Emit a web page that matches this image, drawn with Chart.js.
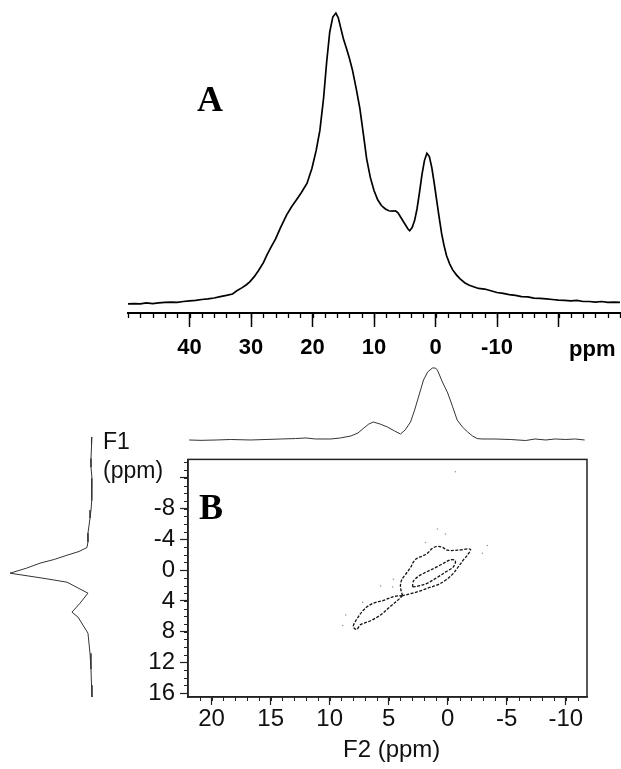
<!DOCTYPE html>
<html>
<head>
<meta charset="utf-8">
<script src="https://cdn.jsdelivr.net/npm/chart.js@4.4.1/dist/chart.umd.min.js"></script>
<style>
  html, body { margin: 0; padding: 0; background: #fff; }
  #fig { position: relative; width: 621px; height: 769px; background: #fff; overflow: hidden; }
  .box { position: absolute; }
  .lbl { position: absolute; font-family: "Liberation Sans", Arial, sans-serif; color: #111; white-space: nowrap; line-height: 1; }
  .panel { position: absolute; font-family: "Liberation Serif", "Times New Roman", serif; font-weight: bold; color: #000; line-height: 1; }
</style>
</head>
<body>
<div id="fig">
  <div class="box" style="left:0;top:0;width:621px;height:370px"><canvas id="specA" width="621" height="370"></canvas></div>
  <div class="box" style="left:0;top:355px;width:621px;height:90px"><canvas id="projF2" width="621" height="90"></canvas></div>
  <div class="box" style="left:0;top:440px;width:621px;height:329px"><canvas id="map2d" width="621" height="329"></canvas></div>
  <div class="box" style="left:0;top:430px;width:110px;height:280px"><canvas id="projF1" width="110" height="280"></canvas></div>

  <div class="panel" style="left:197px;top:81px;font-size:36px;">A</div>
  <div class="lbl" style="left:569px;top:338px;font-size:22px;font-weight:bold;color:#000;">ppm</div>
  <div class="panel" style="left:199px;top:489px;font-size:36px;">B</div>
  <div class="lbl" style="left:103px;top:430px;font-size:23px;">F1</div>
  <div class="lbl" style="left:103px;top:459px;font-size:23px;">(ppm)</div>
  <div class="lbl" style="left:343px;top:737px;font-size:24px;">F2 (ppm)</div>
</div>

<script>
// ---- 1D spectrum (panel A): chemical shift (ppm) and relative intensity ----
const specA_ppm = [50, 49, 48, 47, 46, 45, 44, 43, 42, 41, 40, 39, 38, 37, 36, 35, 34, 33, 32.3, 31.5,
  30.8, 30.2, 29.5, 28.8, 28, 27.4, 26.7, 26, 25.2, 24.2, 23.4, 22.6, 21.8, 20.9, 20.1, 19.4, 18.8, 18.2,
  17.7, 17.2, 16.7, 16.2, 15.8, 15.4, 15.0, 14.5, 14.0, 13.5, 12.9, 12.3, 11.7, 11.2, 10.6, 10.0, 9.4,
  8.8, 8.2, 7.6, 7.0, 6.5, 6.1, 5.6, 5.0, 4.5, 4.2, 3.8, 3.4, 3.0, 2.6, 2.2, 1.8, 1.4, 1.0, 0.6, 0.2,
  -0.2, -0.6, -1.0, -1.4, -1.8, -2.3, -2.8, -3.4, -4, -4.8, -5.5, -6.3, -7, -8, -9, -10, -11, -12, -13,
  -14, -15, -16, -17, -18, -19, -20, -21, -22, -23, -24, -25, -26, -27, -28, -29, -30];
const specA_int = [-0.3, -0.2, -0.3, 0, -0.2, 0, 0.2, 0.3, 0.2, 0.5, 0.7, 0.9, 1.2, 1.4, 1.7, 2.2, 2.6, 3.1, 4.2, 5.2,
  6.2, 7.3, 9.0, 11.1, 13.8, 16.6, 19.4, 22.1, 26.0, 30.4, 33.2, 35.6, 38.1, 41.2, 46.4, 52.6, 59.5, 70.6,
  83.0, 93.4, 98.6, 100, 98.3, 94.8, 91.3, 87.9, 84.4, 80.3, 74.0, 67.1, 57.8, 49.8, 43.3, 38.8, 35.6,
  33.6, 32.5, 31.8, 31.7, 31.8, 31.1, 29.4, 27.3, 25.6, 24.9, 26.0, 28.4, 32.5, 38.1, 44.3, 49.1, 51.6, 50.5, 46.7, 41.2,
  35.3, 29.4, 23.9, 19.7, 16.3, 13.5, 11.4, 9.7, 8.3, 6.9, 6.1, 5.5, 5.0, 4.8, 4.2, 3.6, 3.3, 2.9, 2.6,
  2.2, 2.1, 1.7, 1.6, 1.4, 1.2, 1.0, 0.9, 0.7, 0.9, 0.5, 0.5, 0.3, 0.5, 0.2, 0.3, 0.2];
const axisA_major = [40, 30, 20, 10, 0, -10, -20];
const axisA_labels = ['40', '30', '20', '10', '0', '-10', ''];

// ---- 2D map (panel B): F2 projection on top ----
const projF2_ppm = [21.9, 20.9, 19.6, 18.4, 16.7, 15.4, 14.1, 12.9, 12.0, 11.2, 9.9, 9.1, 8.2, 7.6, 7.1, 6.7,
  6.3, 5.7, 5.1, 4.5, 4.0, 3.6, 3.15, 2.8, 2.55, 2.3, 2.05, 1.7, 1.3, 1.04, 0.87, 0.45, 0.0, -0.4, -0.8,
  -1.25, -1.7, -2.1, -2.5, -2.9, -4.0, -5.3, -6.6, -7.4, -8.3, -9.1, -10.0, -10.8, -11.6];
const projF2_int = [0, -0.5, 0, 0.7, 0, 0.7, 1.4, 2.0, 2.8, 1.4, 1.4, 2.8, 5.6, 9.7, 16.7, 22,
  25, 22, 18, 12.5, 8.3, 14, 25, 41.7, 55.6, 69.4, 83.3, 94.4, 100, 100, 97, 80.6, 65.3, 47, 27.8,
  18, 11, 5.6, 2.0, 1.4, 1.4, 0.7, -0.7, 1.4, 0, 1.4, 0.7, 1.4, 0];

// ---- F1 projection on the left ----
const projF1_ppm = [-16.2, -15, -13.5, -12.4, -11, -9.5, -8.2, -7, -6, -5, -4.1, -3, -2.3, -1.8, -1.33, -0.8,
  -0.33, 0.3, 0.93, 1.56, 2.06, 3.44, 4.7, 5.83, 6.46, 8.47, 11, 13, 15, 16.5];
const projF1_int = [0, 0.6, 1.2, 1.2, 0, 0.6, 0, 1.2, 2.4, 3.7, 4.9, 4.9, 6.1, 15.8, 30.5, 46,
  63.4, 80, 100, 59.8, 30.5, 4.9, 14.6, 24.4, 17, 4.9, 2.4, 1.2, 0.6, 0];

// ---- contour lines of the 2D map (F2 ppm, F1 ppm) ----
const contourOuter_f2 = [3.83, 4.0, 3.91, 3.57, 3.15, 2.9, 2.56, 2.14, 1.71, 1.29, 0.87, 0.44, 0.02, -0.82,
  -1.92, -1.67, -1.33, -0.91, -0.4, 0.19, 0.87, 1.63, 2.3, 3.15, 3.83];
const contourOuter_f1 = [3.32, 2.19, 1.31, 0.55, -0.33, -1.08, -1.58, -1.83, -2.21, -2.84, -3.09, -2.96, -2.59, -2.59,
  -2.71, -1.96, -1.33, -0.45, 0.55, 1.31, 1.93, 2.31, 2.69, 3.07, 3.32];
const contourInner_f2 = [2.98, 2.9, 2.47, 1.88, 0.87, -0.23, -0.65, -0.49, 0.11, 0.87, 1.71, 2.47, 2.98];
const contourInner_f1 = [2.19, 1.43, 0.8, 0.3, -0.45, -1.33, -1.21, -0.45, 0.18, 0.93, 1.68, 2.06, 2.19];
const contourLower_f2 = [3.83, 4.59, 5.43, 6.11, 6.78, 7.21, 7.63, 7.97, 7.97, 7.71, 7.38, 6.53, 5.69, 4.84, 4.25, 3.83];
const contourLower_f1 = [3.32, 3.44, 3.94, 4.19, 4.7, 5.33, 6.21, 7.09, 7.46, 7.71, 7.09, 6.58, 5.83, 4.7, 3.94, 3.32];
// isolated low-level specks around the cross peak
const specks_f2 = [0.87, 0.19, -3.36, -2.94, 5.69, 4.67, 1.88, 8.64, 8.9, 7.2, 4.6, -0.65];
const specks_f1 = [-5.35, -4.7, -3.2, -2.2, 2.06, 2.19, -3.6, 5.83, 7.2, 4.2, 1.2, -12.8];

const f2_major = [20, 15, 10, 5, 0, -5, -10];
const f2_labels = ['20', '15', '10', '5', '0', '-5', '-10'];
const f1_major = [-12, -8, -4, 0, 4, 8, 12, 16];
const f1_labels = ['', '-8', '-4', '0', '4', '8', '12', '16'];

// ---------------------------------------------------------------------------
const SANS = '"Liberation Sans", Arial, sans-serif';
const pts = (xs, ys) => xs.map((x, i) => ({ x: x, y: ys[i] }));

// short secondary tick marks along an axis, placed through the scale
const minorTicks = {
  id: 'minorTicks',
  afterDraw(chart, args, opts) {
    const ctx = chart.ctx;
    (opts.axes || []).forEach(a => {
      const s = chart.scales[a.id];
      ctx.save();
      ctx.strokeStyle = a.color;
      ctx.lineWidth = a.width;
      ctx.beginPath();
      for (let v = a.from; v <= a.to + 1e-9; v += a.step) {
        if (s.isHorizontal()) {
          const px = Math.round(s.getPixelForValue(v)) + 0.5;
          ctx.moveTo(px, s.top);
          ctx.lineTo(px, s.top + a.len);
        } else {
          const py = Math.round(s.getPixelForValue(v)) + 0.5;
          ctx.moveTo(s.right, py);
          ctx.lineTo(s.right - a.len, py);
        }
      }
      ctx.stroke();
      ctx.restore();
    });
  }
};

// frame around the plotting area of the 2D map
const frame = {
  id: 'frame',
  beforeDatasetsDraw(chart, args, opts) {
    if (!opts.show) return;
    const { ctx, chartArea: c } = chart;
    ctx.save();
    ctx.strokeStyle = opts.color;
    ctx.lineWidth = opts.width;
    ctx.strokeRect(c.left, c.top, c.right - c.left, c.bottom - c.top);
    ctx.restore();
  }
};

const base = {
  responsive: false,
  animation: false,
  devicePixelRatio: 1,
  events: [],
};

// Panel A
new Chart(document.getElementById('specA'), {
  type: 'scatter',
  data: { datasets: [{
    data: pts(specA_ppm, specA_int), showLine: true, borderColor: '#000', borderWidth: 1.7,
    pointRadius: 0, tension: 0, clip: false
  }] },
  options: Object.assign({}, base, {
    layout: { padding: { left: 128, right: 1, top: 13, bottom: 9 } },
    plugins: {
      legend: { display: false }, tooltip: { enabled: false },
      minorTicks: { axes: [{ id: 'x', from: -30, to: 50, step: 2, len: 5, color: '#000', width: 1.3 }] }
    },
    scales: {
      x: {
        type: 'linear', reverse: true, min: -30, max: 50,
        afterBuildTicks: ax => { ax.ticks = axisA_major.map(v => ({ value: v })); },
        afterFit: ax => { ax.height = 48; },
        ticks: {
          callback: (v, i) => axisA_labels[i], autoSkip: false, maxRotation: 0,
          font: { family: SANS, size: 22, weight: 'bold' }, color: '#000', padding: 8
        },
        grid: { drawOnChartArea: false, drawTicks: true, tickLength: 14, tickWidth: 1.5, tickColor: '#000' },
        border: { display: true, color: '#000', width: 2 }
      },
      y: { display: false, min: -3.46, max: 100 }
    }
  }),
  plugins: [minorTicks]
});

// F2 projection
new Chart(document.getElementById('projF2'), {
  type: 'scatter',
  data: { datasets: [{
    data: pts(projF2_ppm, projF2_int), showLine: true, borderColor: '#333', borderWidth: 1,
    pointRadius: 0, tension: 0, clip: false
  }] },
  options: Object.assign({}, base, {
    layout: { padding: { left: 188, right: 34, top: 13, bottom: 1 } },
    plugins: { legend: { display: false }, tooltip: { enabled: false } },
    scales: {
      x: { display: false, type: 'linear', reverse: true, min: -11.8, max: 22 },
      y: { display: false, min: -5.56, max: 100 }
    }
  })
});

// F1 projection
new Chart(document.getElementById('projF1'), {
  type: 'scatter',
  data: { datasets: [{
    data: pts(projF1_int, projF1_ppm), showLine: true, borderColor: '#333', borderWidth: 1,
    pointRadius: 0, tension: 0, clip: false
  }] },
  options: Object.assign({}, base, {
    layout: { padding: { left: 10, right: 14, top: 7, bottom: 13 } },
    plugins: { legend: { display: false }, tooltip: { enabled: false } },
    scales: {
      x: { display: false, type: 'linear', reverse: true, min: -4.9, max: 100 },
      y: { display: false, type: 'linear', reverse: true, min: -16.2, max: 16.5 }
    }
  })
});

// 2D correlation map
const contourStyle = {
  showLine: true, borderColor: '#111', borderWidth: 1.3, borderDash: [3, 1.5],
  pointRadius: 0, tension: 0.35, clip: false
};
new Chart(document.getElementById('map2d'), {
  type: 'scatter',
  data: { datasets: [
    Object.assign({ data: pts(contourOuter_f2, contourOuter_f1) }, contourStyle),
    Object.assign({ data: pts(contourInner_f2, contourInner_f1) }, contourStyle),
    Object.assign({ data: pts(contourLower_f2, contourLower_f1) }, contourStyle),
    { data: pts(specks_f2, specks_f1), showLine: false, pointRadius: 0.8, borderWidth: 0,
      backgroundColor: '#999', pointBorderWidth: 0 }
  ] },
  options: Object.assign({}, base, {
    layout: { padding: { left: 128, right: 34, top: 11, bottom: 32 } },
    plugins: {
      legend: { display: false }, tooltip: { enabled: false },
      frame: { show: true, color: '#222', width: 1.5 },
      minorTicks: { axes: [
        { id: 'x', from: -11, to: 21, step: 1, len: 4, color: '#222', width: 1 },
        { id: 'y', from: -14, to: 16, step: 1, len: 4, color: '#222', width: 1 }
      ] }
    },
    scales: {
      x: {
        type: 'linear', reverse: true, min: -11.8, max: 22,
        afterBuildTicks: ax => { ax.ticks = f2_major.map(v => ({ value: v })); },
        afterFit: ax => { ax.height = 40; },
        ticks: {
          callback: (v, i) => f2_labels[i], autoSkip: false, maxRotation: 0,
          font: { family: SANS, size: 24 }, color: '#111', padding: 0
        },
        grid: { drawOnChartArea: false, drawTicks: true, tickLength: 8, tickWidth: 1.2, tickColor: '#222' },
        border: { display: true, color: '#222', width: 1.5 }
      },
      y: {
        type: 'linear', reverse: true, min: -14.4, max: 16.5,
        afterBuildTicks: ax => { ax.ticks = f1_major.map(v => ({ value: v })); },
        afterFit: ax => { ax.width = 60; },
        ticks: {
          callback: (v, i) => f1_labels[i], autoSkip: false,
          font: { family: SANS, size: 24 }, color: '#111', padding: 5
        },
        grid: { drawOnChartArea: false, drawTicks: true, tickLength: 8, tickWidth: 1.2, tickColor: '#222' },
        border: { display: true, color: '#222', width: 1.5 }
      }
    }
  }),
  plugins: [minorTicks, frame]
});
</script>
</body>
</html>
